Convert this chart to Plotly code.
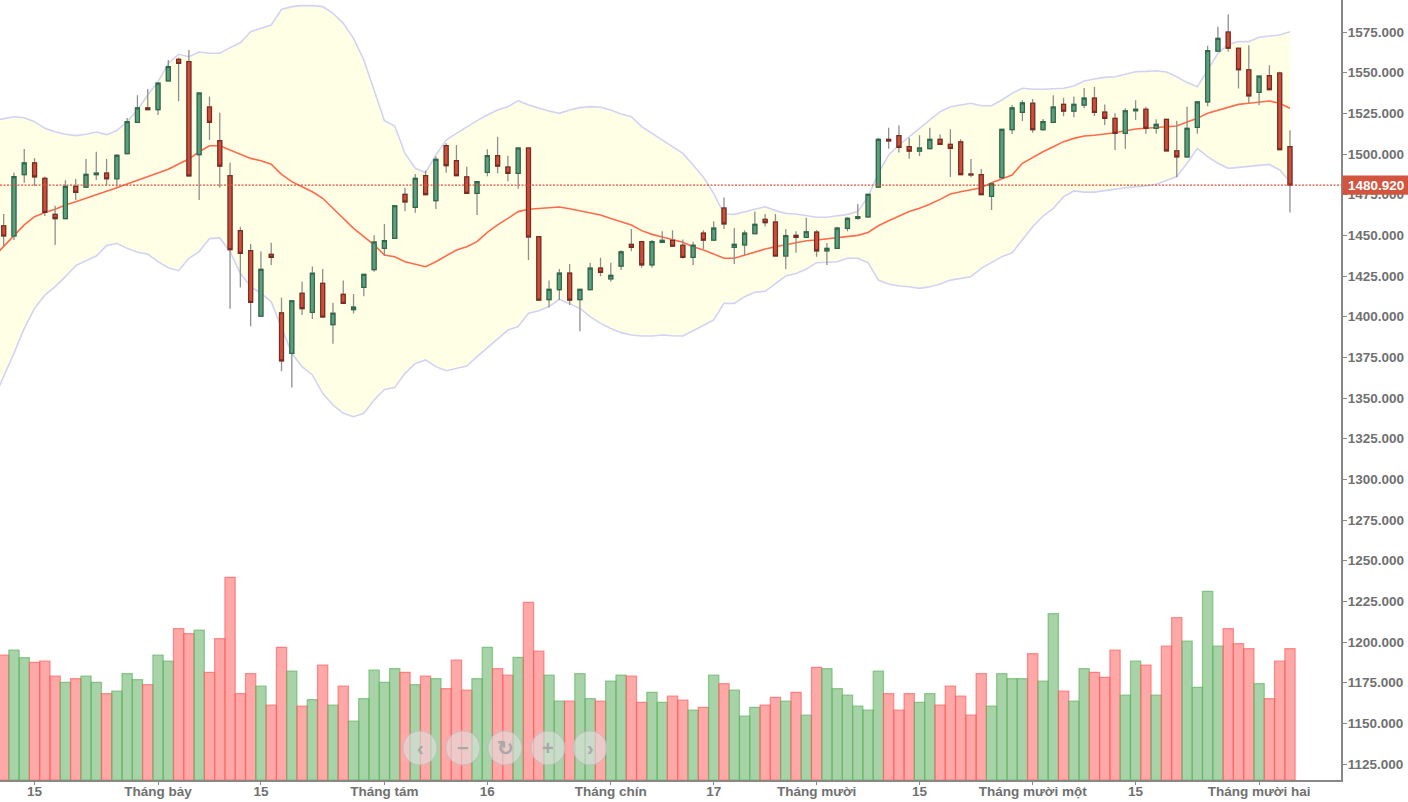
import plotly.graph_objects as go

open_ = [1455.9,1449.6,1487.3,1494.5,1485.0,1462.9,1460.3,1480.1,1479.7,1487.3,1488.3,1484.8,1500.2,1519.5,1528.3,1527.3,1544.9,1558.2,1556.8,1499.6,1528.9,1508.2,1486.7,1452.9,1440.6,1400.4,1438.3,1402.3,1377.5,1414.4,1402.7,1420.5,1395.1,1413.7,1404.3,1418.0,1428.9,1442.0,1448.2,1475.2,1467.2,1486.7,1471.3,1505.1,1495.9,1485.9,
 1475.8,1488.7,1499.0,1492.0,1488.1,1503.7,1449.2,1410.5,1416.6,1426.8,1410.5,1416.6,1429.9,1423.3,1431.1,1444.5,1446.1,1431.8,1445.7,1446.9,1443.9,1436.5,1451.4,1447.1,1466.8,1442.6,1444.1,1451.0,1459.8,1458.2,1437.3,1450.0,1448.8,1452.0,1440.4,1442.0,1454.3,1460.4,1461.3,1479.7,1509.0,1511.3,1504.5,1501.8,1503.3,
 1509.0,1505.9,1507.4,1487.7,1487.3,1474.0,1485.5,1515.0,1525.6,1531.2,1515.0,1519.5,1530.5,1526.4,1530.1,1534.4,1525.8,1521.9,1512.7,1526.6,1527.5,1515.8,1521.3,1502.0,1498.2,1516.4,1532.0,1563.3,1575.0,1565.0,1551.8,1537.9,1548.2,1549.8,1504.5]
high = [1463.1,1488.5,1503.1,1497.6,1486.1,1468.2,1483.8,1484.6,1496.9,1501.4,1496.9,1500.0,1522.1,1536.1,1540.0,1543.6,1557.8,1559.4,1563.9,1537.5,1535.3,1525.4,1494.7,1455.3,1444.7,1440.0,1445.5,1411.7,1409.8,1421.5,1430.8,1429.3,1408.6,1422.3,1413.9,1426.0,1450.0,1457.0,1468.2,1479.3,1487.7,1489.8,1498.4,1506.6,1505.5,1492.2,
 1483.0,1502.9,1510.6,1499.0,1503.7,1503.7,1449.2,1422.3,1429.3,1432.4,1416.8,1433.2,1436.3,1433.2,1440.8,1453.9,1446.7,1447.1,1452.5,1453.1,1447.5,1446.1,1453.1,1458.6,1473.2,1454.5,1453.1,1464.6,1463.1,1463.1,1453.9,1452.5,1460.8,1453.3,1445.3,1455.3,1461.3,1469.3,1475.2,1510.0,1516.2,1517.6,1510.0,1511.5,1516.2,
 1512.0,1515.2,1509.0,1496.9,1490.8,1482.4,1515.2,1530.1,1533.0,1533.8,1521.5,1536.1,1534.6,1535.3,1540.6,1541.4,1530.5,1525.0,1528.1,1533.0,1529.1,1521.3,1521.3,1520.5,1529.1,1532.0,1566.6,1578.3,1585.9,1565.0,1566.8,1547.9,1554.5,1550.6,1514.6]
low = [1443.0,1447.1,1482.4,1480.3,1461.9,1444.1,1460.3,1471.7,1479.7,1484.0,1480.9,1479.9,1500.2,1519.5,1527.3,1524.0,1544.9,1532.4,1486.5,1471.7,1508.6,1479.3,1404.9,1418.0,1394.1,1400.4,1431.8,1366.4,1356.4,1401.0,1398.6,1399.8,1383.4,1408.2,1401.9,1412.5,1427.7,1437.5,1448.2,1464.8,1463.9,1475.0,1466.2,1488.5,1486.7,1475.8,
 1462.5,1486.3,1488.1,1483.2,1478.7,1434.8,1410.2,1405.7,1410.2,1407.2,1391.0,1416.6,1424.8,1421.5,1428.7,1440.2,1430.1,1430.1,1445.7,1443.4,1435.7,1431.8,1441.6,1447.1,1453.9,1432.4,1437.9,1451.0,1455.5,1437.3,1429.3,1439.3,1448.8,1436.9,1431.8,1442.0,1452.5,1459.6,1461.3,1479.7,1503.3,1501.0,1497.1,1498.8,1503.3,
 1505.5,1485.9,1487.3,1485.7,1475.0,1465.6,1485.5,1512.3,1520.3,1513.1,1514.3,1518.9,1523.2,1522.6,1528.1,1523.4,1517.8,1502.5,1503.3,1520.9,1512.5,1512.5,1501.9,1485.7,1498.2,1512.5,1529.3,1563.3,1562.9,1540.2,1531.2,1529.9,1539.6,1502.7,1464.1]
close = [1449.6,1486.1,1494.5,1485.9,1464.1,1460.3,1480.1,1476.4,1487.5,1488.3,1484.8,1499.2,1519.9,1528.3,1527.3,1543.6,1553.7,1555.7,1486.5,1537.5,1519.5,1492.6,1441.2,1438.9,1408.8,1429.1,1436.5,1372.8,1409.8,1404.9,1426.7,1399.8,1402.1,1408.2,1405.9,1426.0,1445.9,1446.7,1468.2,1470.5,1485.0,1475.0,1496.7,1492.8,1486.7,1475.8,
 1483.0,1499.0,1492.6,1488.1,1503.7,1449.0,1410.2,1416.8,1426.8,1410.2,1416.8,1429.9,1427.3,1425.4,1439.9,1442.6,1431.8,1446.1,1446.9,1443.4,1436.5,1443.9,1447.1,1454.5,1457.0,1444.5,1451.4,1456.8,1457.8,1437.3,1449.8,1448.8,1452.2,1440.4,1442.0,1454.5,1460.4,1461.5,1475.2,1509.0,1508.0,1504.1,1501.8,1503.7,1509.0,
 1505.9,1503.5,1487.3,1487.1,1475.0,1481.6,1515.2,1528.3,1531.4,1515.0,1519.9,1528.9,1526.4,1530.5,1534.4,1525.6,1521.9,1512.7,1526.6,1527.5,1515.8,1518.2,1501.9,1498.2,1515.8,1532.0,1563.5,1571.1,1565.0,1551.8,1535.7,1547.9,1539.6,1502.7,1480.92]

# Bands start one session before the first visible candle (the lines run off the left edge).
band_upper = [1520.5,1521.5,1522.9,1522.3,1519.9,1515.8,1513.7,1512.1,1511.3,1512.1,1513.5,1511.9,1514.4,1519.9,1527.0,1536.3,1544.5,1555.7,1561.3,1559.8,1562.7,1561.9,1561.9,1565.4,1568.4,1575.2,1577.3,1579.3,1588.9,1590.6,1591.2,1591.2,1590.6,1586.5,1580.3,1571.1,1557.8,1539.3,1520.5,1517.2,1500.4,1491.2,1488.5,1499.4,1508.6,1512.7,1516.8,
 1520.5,1524.0,1527.0,1529.1,1532.8,1530.1,1528.1,1526.4,1525.0,1527.0,1528.5,1529.1,1528.7,1527.0,1524.6,1522.9,1516.8,1512.7,1508.6,1504.9,1500.4,1493.2,1485.7,1475.8,1463.1,1462.9,1464.6,1466.0,1467.6,1465.2,1463.5,1463.1,1461.9,1461.1,1461.1,1461.9,1462.9,1464.6,1473.8,1488.1,1499.4,1505.5,1510.6,1515.8,1520.9,
 1526.0,1529.1,1530.1,1531.2,1529.7,1529.7,1533.2,1537.3,1540.4,1539.8,1539.8,1540.2,1540.4,1541.8,1544.9,1546.1,1547.1,1547.5,1549.2,1550.6,1550.8,1551.2,1550.4,1547.5,1543.9,1541.4,1551.6,1561.9,1567.4,1569.1,1569.1,1571.7,1572.5,1573.2,1575.2]
band_lower = [1349.0,1363.1,1377.5,1392.8,1405.1,1413.3,1418.5,1424.6,1431.4,1434.4,1437.3,1443.7,1445.1,1442.0,1439.6,1438.5,1433.8,1430.1,1428.3,1435.9,1440.0,1448.0,1448.4,1440.0,1426.7,1418.5,1414.4,1409.2,1392.8,1377.5,1369.3,1364.2,1352.9,1345.7,1340.6,1338.5,1340.6,1348.8,1355.3,1356.4,1365.2,1371.3,1373.4,1369.3,1366.8,1368.3,1369.7,
 1375.4,1381.0,1386.7,1391.8,1393.9,1402.1,1403.7,1406.2,1410.7,1407.8,1405.1,1400.0,1395.9,1392.8,1390.2,1388.7,1388.1,1388.1,1388.7,1388.3,1388.1,1391.4,1394.9,1398.0,1408.2,1408.2,1412.3,1415.0,1415.6,1420.5,1425.0,1426.6,1429.3,1433.2,1433.4,1433.8,1435.9,1435.9,1433.2,1422.5,1420.1,1418.9,1418.4,1417.4,1418.4,
 1420.1,1422.5,1423.6,1424.6,1429.7,1433.2,1436.9,1439.3,1447.1,1455.3,1461.9,1466.6,1473.8,1477.3,1476.6,1476.6,1477.5,1478.5,1479.3,1479.9,1480.3,1481.4,1483.6,1486.1,1494.3,1503.5,1498.4,1494.3,1491.2,1491.8,1492.8,1493.2,1493.6,1490.2,1483.0]
band_mid = [1436.6,1443.4,1450.2,1456.4,1461.5,1464.1,1466.0,1468.7,1470.7,1472.8,1474.8,1476.8,1479.3,1481.6,1483.8,1486.1,1488.1,1490.6,1493.9,1496.9,1501.4,1505.1,1505.1,1502.5,1500.4,1497.3,1495.9,1493.7,1487.5,1483.0,1479.9,1476.8,1472.8,1466.6,1460.5,1454.3,1449.2,1444.1,1437.9,1436.9,1433.8,1432.2,1430.7,1433.8,1437.3,1441.0,1443.0,
 1446.1,1451.8,1456.4,1460.4,1464.6,1466.0,1466.6,1467.2,1467.4,1466.4,1465.2,1464.1,1462.5,1460.4,1458.4,1456.4,1452.9,1450.6,1449.0,1447.5,1445.7,1443.0,1441.0,1438.5,1435.9,1435.9,1437.9,1440.0,1441.6,1443.0,1444.1,1445.5,1446.7,1447.1,1447.8,1448.2,1449.2,1450.0,1451.8,1455.9,1459.0,1461.9,1464.6,1466.6,1469.1,
 1472.1,1475.4,1476.8,1477.9,1479.3,1482.4,1484.6,1487.1,1494.3,1497.9,1501.4,1504.5,1507.6,1509.6,1511.1,1511.5,1512.1,1513.1,1514.3,1515.4,1515.8,1516.2,1516.8,1517.2,1519.7,1521.9,1525.0,1526.8,1528.5,1530.5,1531.2,1532.0,1532.6,1531.2,1528.1]
volume = [125,130,122.3,117.7,119,104,97.7,101.3,104,97.7,86.3,89,106.3,100.3,95.3,125,119,151.3,146.3,150,107.7,141.3,202.7,86.3,106.3,94,75,132.7,109,74,80.3,115,75,94,59,81.3,110,97.7,111.3,107.7,95.3,104,101.3,91.3,120,90,
 101.3,132.7,111.3,105,122.7,177.7,129,105,79,79,106.3,81.3,79,99,105,104,77.7,87.7,77.7,84,80,70,72.7,105,96.3,90,64,72.7,75,82.7,79,87.7,65,112.7,111.3,91.3,85,74,70,109,86.3,70,86.3,77.7,86.3,75,
 94,84,65,106.3,74,106.3,101.3,101.3,126.3,99,166.3,89,79,111.3,107.7,102.7,130,85,119,115,85,134,162.3,139,92.7,188.7,134,151.3,136.3,131.3,96.3,81.3,119,131.3]

tick_positions = [3, 15, 25, 37, 47, 59, 69, 79, 89, 100, 110, 122]
tick_labels = ["15", "Tháng bảy", "15", "Tháng tám", "16", "Tháng chín", "17", "Tháng mười", "15", "Tháng mười một", "15", "Tháng mười hai"]
price_ticks = list(range(1125, 1576, 25))
zoom_glyphs = ["‹", "−", "↻", "+", "›"]
zoom_centres = [420, 463, 505, 548, 590]

W, H = 1408, 802
ML, MR, MT, MB = 0, 67, 0, 22
PW, PH = W - ML - MR, H - MT - MB
FONT = "Liberation Sans, Arial, sans-serif"
TXT = "#707070"
RED, RED_D = "#cb4f3b", "#7c2b20"
GRN, GRN_D = "#5f9e7c", "#2d6a4b"
PRICE_RANGE = [1115.2, 1594.67]

x = list(range(len(close)))
band_x = list(range(-1, len(close)))
last = close[-1]

fig = go.Figure()
fig.add_trace(go.Scatter(x=band_x, y=band_lower, mode="lines", line=dict(color="#d2d2f5", width=1.6), hoverinfo="skip"))
fig.add_trace(go.Scatter(x=band_x, y=band_upper, mode="lines", line=dict(color="#d2d2f5", width=1.6),
                         fill="tonexty", fillcolor="#ffffe6", hoverinfo="skip"))
fig.add_trace(go.Scatter(x=band_x, y=band_mid, mode="lines", line=dict(color="#ff6a4d", width=1.6), hoverinfo="skip"))

up = [c > o for o, c in zip(open_, close)]
fig.add_trace(go.Bar(x=x, y=volume, yaxis="y2", width=1.0,
                     marker=dict(color=["rgba(90,170,90,0.53)" if u else "rgba(255,90,90,0.53)" for u in up],
                                 line=dict(color=["rgba(90,180,90,0.65)" if u else "rgba(255,90,90,0.65)" for u in up], width=1.2)),
                     hoverinfo="skip"))

# wicks
fig.add_trace(go.Candlestick(x=x, yaxis="y3", open=open_, high=high, low=low, close=close, whiskerwidth=0,
                             increasing=dict(line=dict(color="#8f8f8f", width=1.3), fillcolor=GRN),
                             decreasing=dict(line=dict(color="#8f8f8f", width=1.3), fillcolor=RED)))
# bodies
fig.add_trace(go.Candlestick(x=x, yaxis="y3", open=open_, close=close,
                             high=[max(a, b) for a, b in zip(open_, close)],
                             low=[min(a, b) for a, b in zip(open_, close)], whiskerwidth=0,
                             increasing=dict(line=dict(color=GRN_D, width=1.2), fillcolor=GRN),
                             decreasing=dict(line=dict(color=RED_D, width=1.2), fillcolor=RED)))

shapes = [
    dict(type="line", xref="paper", yref="y", x0=0, x1=1, y0=last, y1=last,
         line=dict(color="#d9503c", width=1.2, dash="2px,1.5px"), layer="above"),
    dict(type="rect", xref="paper", yref="y", x0=1.001, x1=W / PW, y0=last - 5.9, y1=last + 5.9,
         fillcolor="#d2563f", line=dict(width=0), layer="above"),
]
annotations = [dict(xref="paper", yref="y", x=(1342 + 1410) / 2 / PW, y=last, text="<b>1480.920</b>", showarrow=False,
                    font=dict(family=FONT, size=13.5, color="#ffffff"), xanchor="center", yanchor="middle")]
for cx, g in zip(zoom_centres, zoom_glyphs):
    x0, x1 = (cx - 17) / PW, (cx + 17) / PW
    y0, y1 = (780 - 748 - 17) / PH, (780 - 748 + 17) / PH
    shapes.append(dict(type="circle", xref="paper", yref="paper", x0=x0, x1=x1, y0=y0, y1=y1,
                       fillcolor="rgba(225,225,225,0.6)", line=dict(color="rgba(185,185,185,0.75)", width=1), layer="above"))
    annotations.append(dict(xref="paper", yref="paper", x=cx / PW, y=(780 - 748) / PH, text=f"<b>{g}</b>", showarrow=False,
                            font=dict(family=FONT, size=20, color="#a8a8a8"), xanchor="center", yanchor="middle"))

tick_font = dict(family=FONT, size=13.5, color=TXT, weight=700)
fig.update_layout(
    width=W, height=H, margin=dict(l=ML, r=MR, t=MT, b=MB, autoexpand=False),
    paper_bgcolor="#ffffff", plot_bgcolor="#ffffff", showlegend=False, boxgap=0.45, boxmode="overlay",
    font=dict(family=FONT, size=13, color=TXT),
    shapes=shapes, annotations=annotations,
    xaxis=dict(range=[-0.357, 129.96], rangeslider=dict(visible=False), showgrid=False, zeroline=False, automargin=False,
               tickmode="array", tickvals=tick_positions, ticktext=tick_labels, ticks="outside", ticklen=3, tickwidth=1,
               tickcolor="#888888", showline=True, linecolor="#888888", linewidth=2, ticklabelstandoff=-5,
               tickfont=tick_font),
    yaxis=dict(range=PRICE_RANGE, side="right", showgrid=False, zeroline=False, tickmode="array", automargin=False,
               tickvals=price_ticks, ticktext=[f"{v:.3f}" for v in price_ticks], ticks="outside", ticklen=4, tickwidth=1,
               tickcolor="#888888", showline=True, linecolor="#888888", linewidth=2, ticklabelstandoff=-2,
               tickfont=tick_font),
    yaxis2=dict(range=[0, 780], overlaying="y", side="right", visible=False),
    yaxis3=dict(range=PRICE_RANGE, overlaying="y", side="right", visible=False),
)

fig.write_html("out.html", config=dict(displayModeBar=False),
               post_script="document.body.style.margin='0';document.body.style.overflow='hidden';")
